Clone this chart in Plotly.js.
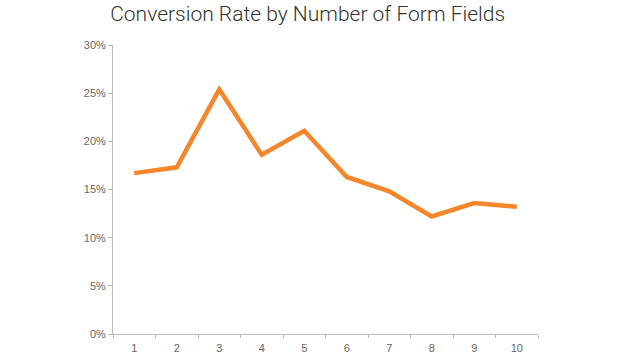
<!DOCTYPE html>
<html>
<head>
<meta charset="utf-8">
<script src="https://cdn.plot.ly/plotly-3.0.1.min.js"></script>
<style>html,body{margin:0;padding:0;background:#fff;}#chart{width:619px;height:363px;}</style>
</head>
<body>
<div id="chart"></div>
<script>
const fields = ['1','2','3','4','5','6','7','8','9','10'];
const conversionRate = [16.7, 17.3, 25.4, 18.6, 21.1, 16.3, 14.8, 12.2, 13.6, 13.2];
const yTicks = [0, 5, 10, 15, 20, 25, 30];

const trace = {
  x: fields,
  y: conversionRate,
  type: 'scatter',
  mode: 'lines',
  line: {color: '#F5862A', width: 4.5},
  hoverinfo: 'skip'
};

const layout = {
  width: 619, height: 363,
  margin: {l: 113, r: 81, t: 45, b: 29},
  paper_bgcolor: '#fff', plot_bgcolor: '#fff',
  showlegend: false,
  title: {
    text: 'Conversion Rate by Number of Form Fields',
    font: {family: 'Roboto, Liberation Sans, Arial, sans-serif', size: 21, weight: 300, color: '#333'},
    x: 0.497, xref: 'container', xanchor: 'center',
    y: 1 - 14/363, yref: 'container', yanchor: 'middle'
  },
  xaxis: {
    type: 'category',
    range: [-0.5, 9.5],
    tickson: 'boundaries',
    ticks: 'outside', ticklen: 3, tickcolor: '#bbb',
    ticklabelstandoff: 4,
    showline: true, linecolor: '#bbb', linewidth: 1,
    showgrid: false, zeroline: false,
    tickfont: {family: 'Liberation Sans, Arial, sans-serif', size: 11, color: '#666'}
  },
  yaxis: {
    range: [0, 30],
    tickvals: yTicks,
    ticktext: yTicks.map(v => v + '%'),
    ticks: 'outside', ticklen: 4, tickcolor: '#bbb',
    showline: true, linecolor: '#bbb', linewidth: 1,
    showgrid: false, zeroline: false,
    tickfont: {family: 'Liberation Sans, Arial, sans-serif', size: 11, color: '#666'}
  }
};

Plotly.newPlot('chart', [trace], layout, {staticPlot: true});
</script>
</body>
</html>
